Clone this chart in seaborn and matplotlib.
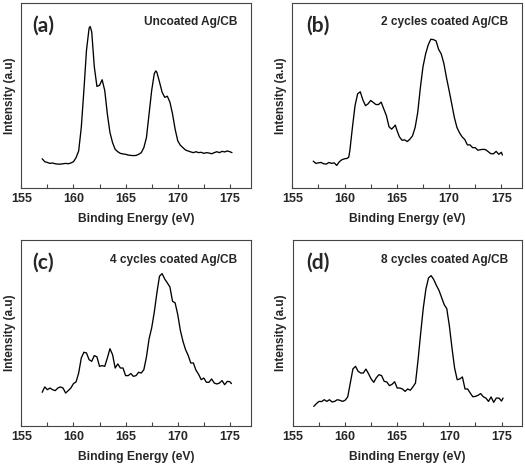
import pandas as pd
import matplotlib.pyplot as plt
import seaborn as sns
from matplotlib.ticker import MultipleLocator

# XPS S 2p spectra, binding energy (eV) vs intensity (a.u., 0-100 of panel height)
energy_a = [157.0, 157.25, 157.5, 157.75, 158.0, 158.25, 158.5, 158.75, 159.0, 159.25,
            159.5, 159.75, 160.0, 160.25, 160.5, 160.75, 161.0, 161.25, 161.5, 161.6,
            161.75, 162.0, 162.25, 162.5, 162.75, 163.0, 163.25, 163.5, 163.75, 164.0,
            164.25, 164.5, 164.75, 165.0, 165.25, 165.5, 165.75, 166.0, 166.25, 166.5,
            166.75, 167.0, 167.25, 167.5, 167.75, 167.9, 168.0, 168.25, 168.5, 168.75,
            169.0, 169.25, 169.5, 169.75, 170.0, 170.25, 170.5, 170.75, 171.0, 171.25,
            171.5, 171.75, 172.0, 172.25, 172.5, 172.75, 173.0, 173.25, 173.5, 173.75,
            174.0, 174.25, 174.5, 174.75, 175.0, 175.2]
intensity_a = [15.8, 14.2, 13.8, 13.3, 13.5, 13.1, 12.9, 12.9, 13.1, 13.3,
               13.1, 13.5, 14.2, 16.4, 20.0, 32.7, 52.7, 74.5, 86.4, 87.3,
               84.5, 65.5, 54.9, 55.5, 58.5, 52.7, 40.0, 30.0, 24.5, 20.9,
               19.6, 18.7, 18.4, 18.2, 17.8, 17.6, 17.5, 17.6, 18.2, 19.1,
               21.8, 27.3, 40.0, 52.7, 61.8, 63.3, 62.5, 57.3, 51.8, 49.0,
               49.6, 46.4, 40.0, 31.8, 25.5, 23.1, 21.8, 20.5, 20.0, 19.5,
               19.1, 19.6, 19.1, 19.3, 18.7, 19.1, 18.9, 18.5, 19.1, 19.6,
               19.1, 19.8, 19.5, 20.0, 19.6, 19.1]

energy_b = [157.0, 157.25, 157.5, 157.75, 158.0, 158.25, 158.5, 158.75, 159.0, 159.25,
            159.5, 159.75, 160.0, 160.25, 160.4, 160.5, 160.75, 161.0, 161.25, 161.5,
            161.75, 162.0, 162.25, 162.5, 162.75, 163.0, 163.25, 163.5, 163.75, 164.0,
            164.25, 164.5, 164.75, 164.85, 165.0, 165.25, 165.5, 165.75, 166.0, 166.25,
            166.5, 166.75, 167.0, 167.25, 167.5, 167.75, 168.0, 168.25, 168.5, 168.75,
            169.0, 169.25, 169.5, 169.75, 170.0, 170.25, 170.5, 170.75, 171.0, 171.25,
            171.5, 171.75, 172.0, 172.25, 172.5, 172.75, 173.0, 173.25, 173.5, 173.75,
            174.0, 174.25, 174.5, 174.75, 175.0, 175.1]
intensity_b = [14.5, 13.3, 13.6, 13.8, 13.1, 12.9, 13.8, 13.3, 13.6, 12.2,
               14.2, 15.3, 15.8, 16.0, 16.7, 20.0, 32.7, 44.5, 50.9, 52.0,
               47.6, 44.5, 45.5, 47.3, 46.2, 45.1, 45.1, 46.4, 42.7, 39.1,
               33.1, 31.8, 33.3, 34.0, 31.3, 27.6, 25.8, 26.0, 25.1, 26.4,
               28.2, 32.7, 40.9, 54.2, 65.5, 72.4, 77.3, 80.4, 80.2, 79.5,
               74.9, 72.4, 67.3, 59.6, 52.7, 45.5, 38.2, 32.7, 29.8, 27.6,
               26.2, 23.3, 23.3, 21.8, 21.8, 20.4, 20.7, 20.9, 20.7, 19.6,
               18.5, 18.5, 19.8, 18.2, 19.3, 17.8]

energy_cd = [157.0, 157.25, 157.5, 157.75, 158.0, 158.25, 158.5, 158.75, 159.0, 159.25,
             159.5, 159.75, 160.0, 160.25, 160.5, 160.75, 161.0, 161.25, 161.5, 161.75,
             162.0, 162.25, 162.5, 162.75, 163.0, 163.25, 163.5, 163.75, 164.0, 164.25,
             164.5, 164.75, 165.0, 165.25, 165.5, 165.75, 166.0, 166.25, 166.5, 166.75,
             167.0, 167.25, 167.5, 167.75, 168.0, 168.25, 168.5, 168.75, 169.0, 169.25,
             169.5, 169.75, 170.0, 170.25, 170.5, 170.75, 171.0, 171.25, 171.5, 171.75,
             172.0, 172.25, 172.5, 172.75, 173.0, 173.25, 173.5, 173.75, 174.0, 174.25,
             174.5, 174.75, 175.0, 175.15]
intensity_c = [18.0, 20.9, 19.4, 20.3, 19.4, 18.9, 20.3, 20.9, 20.3, 17.6,
               18.9, 20.3, 22.7, 23.6, 28.4, 36.5, 39.6, 39.2, 35.6, 34.7,
               37.8, 37.1, 32.0, 32.4, 32.0, 36.5, 41.5, 38.3, 31.1, 33.3,
               31.1, 31.1, 27.0, 27.0, 28.1, 26.6, 27.0, 28.8, 28.4, 30.2,
               37.1, 46.8, 52.7, 61.2, 71.6, 80.6, 82.0, 79.1, 77.0, 74.8,
               67.1, 66.2, 59.9, 51.4, 45.5, 41.0, 37.9, 33.8, 33.8, 29.9,
               27.7, 24.8, 25.7, 23.4, 23.4, 25.2, 23.0, 22.5, 23.0, 24.3,
               22.1, 23.9, 23.7, 22.7]
intensity_d = [10.4, 11.9, 13.1, 13.0, 14.0, 13.1, 14.0, 12.8, 13.1, 14.0,
               13.7, 13.1, 13.7, 15.5, 23.0, 30.6, 32.0, 29.3, 28.4, 28.4,
               30.5, 28.0, 25.2, 23.4, 25.9, 27.5, 27.0, 23.9, 23.6, 21.6,
               22.3, 23.7, 20.3, 20.3, 19.8, 18.5, 19.8, 19.1, 20.9, 23.0,
               35.6, 50.0, 63.5, 73.7, 79.7, 80.9, 78.8, 75.7, 73.0, 69.2,
               65.3, 63.1, 53.8, 41.9, 31.1, 24.8, 25.2, 26.3, 19.8, 19.8,
               17.6, 15.6, 15.8, 16.4, 17.3, 15.6, 14.9, 13.1, 15.5, 12.6,
               14.9, 14.9, 13.3, 14.9]

panel_letters = ["(a)", "(b)", "(c)", "(d)"]
sample_names = ["Uncoated Ag/CB", "2 cycles coated Ag/CB",
                "4 cycles coated Ag/CB", "8 cycles coated Ag/CB"]


def main():
    sns.set_theme(style="ticks")
    plt.rcParams["font.family"] = ["Liberation Sans", "DejaVu Sans"]

    fig = plt.figure(figsize=(5.25, 4.66), dpi=100)
    boxes = [(0.0406, 0.5966, 0.437, 0.397), (0.5568, 0.5966, 0.438, 0.397),
             (0.0406, 0.0865, 0.437, 0.398), (0.5580, 0.0865, 0.437, 0.398)]
    spectra = [(energy_a, intensity_a), (energy_b, intensity_b),
               (energy_cd, intensity_c), (energy_cd, intensity_d)]
    letter_x = [0.047, 0.06, 0.047, 0.057]

    for k, (box, (e, inten)) in enumerate(zip(boxes, spectra)):
        ax = fig.add_axes(box)
        df = pd.DataFrame({"energy": e, "intensity": inten})
        sns.lineplot(data=df, x="energy", y="intensity", ax=ax, color="black",
                     linewidth=0.95, sort=False, estimator=None)
        ax.set_xlim(155, 177)
        ax.set_ylim(0, 100)
        ax.set_yticks([])
        ax.xaxis.set_major_locator(MultipleLocator(5))
        ax.xaxis.set_minor_locator(MultipleLocator(2.5))
        ax.tick_params(axis="x", which="both", direction="in", length=3,
                       width=0.8, color="#444444", labelsize=9, pad=3.5)
        for lab in ax.get_xticklabels():
            lab.set_fontweight("bold")
        for sp in ax.spines.values():
            sp.set_color("#444444")
            sp.set_linewidth(0.8)
        ax.set_xlabel("Binding Energy (eV)", fontsize=8.7, fontweight="bold", labelpad=6)
        ax.set_ylabel("Intensity (a.u)", fontsize=8.5, fontweight="bold", labelpad=4)
        ax.text(letter_x[k], 0.88, panel_letters[k], transform=ax.transAxes,
                ha="left", va="center", fontsize=15, fontweight="bold",
                family=["Lato", "DejaVu Sans"])
        ax.text(0.94, 0.895, sample_names[k], transform=ax.transAxes,
                ha="right", va="center", fontsize=8.6, fontweight="bold")

    fig.savefig("out.png", dpi=100)


if __name__ == "__main__":
    main()
